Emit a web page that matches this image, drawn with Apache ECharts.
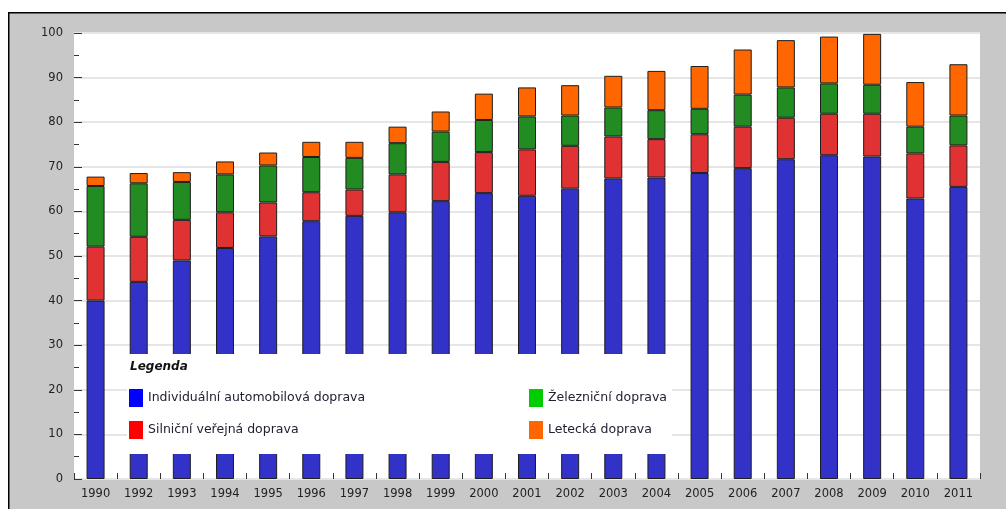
<!DOCTYPE html>
<html>
<head>
<meta charset="utf-8">
<title>Dělba přepravní práce v osobní dopravě</title>
<script src="https://cdn.jsdelivr.net/npm/echarts@6/dist/echarts.min.js"></script>
<style>
  html, body { margin: 0; padding: 0; background: #ffffff; }
  #chart { width: 1006px; height: 509px; }
</style>
</head>
<body>
<div id="chart"></div>
<script>
// Years on the category axis
const years = ['1990', '1992', '1993', '1994', '1995', '1996', '1997', '1998', '1999', '2000',
  '2001', '2002', '2003', '2004', '2005', '2006', '2007', '2008', '2009', '2010', '2011'];

// Stacked values per transport mode
const individualni = [40.0, 44.2, 49.0, 51.8, 54.4, 57.8, 59.0, 59.8, 62.3, 64.1,
  63.5, 65.1, 67.4, 67.6, 68.6, 69.7, 71.7, 72.6, 72.3, 62.9, 65.5];
const silnicniVerejna = [12.1, 10.1, 9.1, 8.0, 7.6, 6.5, 5.9, 8.5, 8.8, 9.2,
  10.4, 9.6, 9.4, 8.6, 8.7, 9.3, 9.3, 9.3, 9.6, 10.1, 9.3];
const zeleznicni = [13.6, 12.0, 8.5, 8.5, 8.3, 7.9, 7.1, 7.0, 6.8, 7.2,
  7.4, 6.8, 6.5, 6.5, 5.7, 7.2, 6.8, 6.8, 6.5, 6.0, 6.7];
const letecka = [2.1, 2.3, 2.2, 2.9, 2.9, 3.4, 3.6, 3.7, 4.5, 5.9,
  6.5, 6.8, 7.1, 8.8, 9.6, 10.1, 10.6, 10.5, 11.4, 10.0, 11.5];

// Series names and colours (bar fill / legend swatch)
const seriesNames = ['Individuální automobilová doprava', 'Silniční veřejná doprava', 'Železniční doprava', 'Letecká doprava'];
const barColors = ['#3232c8', '#e03232', '#228b22', '#ff6600'];
const swatchColors = ['#0000ff', '#ff0000', '#00cc00', '#ff6600'];

const FONT = 'DejaVu Sans';
const seriesData = [individualni, silnicniVerejna, zeleznicni, letecka];

const chart = echarts.init(document.getElementById('chart'), null, { renderer: 'canvas' });

const series = seriesNames.map((name, i) => ({
  name: name,
  type: 'bar',
  stack: 'total',
  barWidth: 18,
  data: seriesData[i],
  itemStyle: { color: barColors[i], borderColor: '#1e1e1e', borderWidth: 1 },
  emphasis: { disabled: true }
}));

const legendCommon = {
  orient: 'vertical',
  icon: 'rect',
  padding: 0,
  itemWidth: 14,
  itemHeight: 18,
  itemGap: 14,
  z: 20,
  selectedMode: false,
  itemStyle: { borderWidth: 0 },
  textStyle: { fontFamily: FONT, fontSize: 12.5, color: '#222233' }
};

chart.setOption({
  animation: false,
  backgroundColor: '#ffffff',
  grid: {
    left: 74, right: 26, top: 33, bottom: 30,
    show: true, backgroundColor: '#ffffff', borderWidth: 0
  },
  graphic: [
    {
      type: 'rect', z: -10,
      shape: { x: 8.75, y: 12.75, width: 1100, height: 600 },
      style: { fill: '#c8c8c8', stroke: '#000000', lineWidth: 1.5 }
    },
    {
      type: 'rect', z: 10,
      shape: { x: 127, y: 354, width: 545, height: 100 },
      style: { fill: '#ffffff' }
    },
    {
      type: 'text', z: 20,
      x: 130, y: 367,
      style: {
        text: 'Legenda', fill: '#111111',
        font: 'italic bold 12px "DejaVu Sans"',
        verticalAlign: 'middle'
      }
    }
  ],
  legend: [
    Object.assign({}, legendCommon, {
      left: 129, top: 389,
      data: [
        { name: seriesNames[0], itemStyle: { color: swatchColors[0] } },
        { name: seriesNames[1], itemStyle: { color: swatchColors[1] } }
      ]
    }),
    Object.assign({}, legendCommon, {
      left: 529, top: 389,
      data: [
        { name: seriesNames[2], itemStyle: { color: swatchColors[2] } },
        { name: seriesNames[3], itemStyle: { color: swatchColors[3] } }
      ]
    })
  ],
  xAxis: {
    type: 'category',
    data: years,
    boundaryGap: true,
    axisLine: { show: false },
    axisTick: { show: true, inside: true, length: 6, lineStyle: { color: '#333333', width: 1 } },
    axisLabel: { interval: 0, margin: 9, color: '#222222', fontFamily: FONT, fontSize: 11.5 },
    splitLine: { show: false }
  },
  yAxis: {
    type: 'value',
    min: 0, max: 100, interval: 10,
    axisLine: { show: false },
    axisTick: { show: true, inside: true, length: 8, lineStyle: { color: '#333333', width: 1 } },
    minorTick: { show: true, splitNumber: 2, length: 5, lineStyle: { color: '#333333', width: 1 } },
    axisLabel: { margin: 11, color: '#222222', fontFamily: FONT, fontSize: 11.5 },
    splitLine: { show: true, lineStyle: { color: '#e6e6e6', width: 2 } },
    minorSplitLine: { show: false }
  },
  series: series
});
</script>
</body>
</html>
